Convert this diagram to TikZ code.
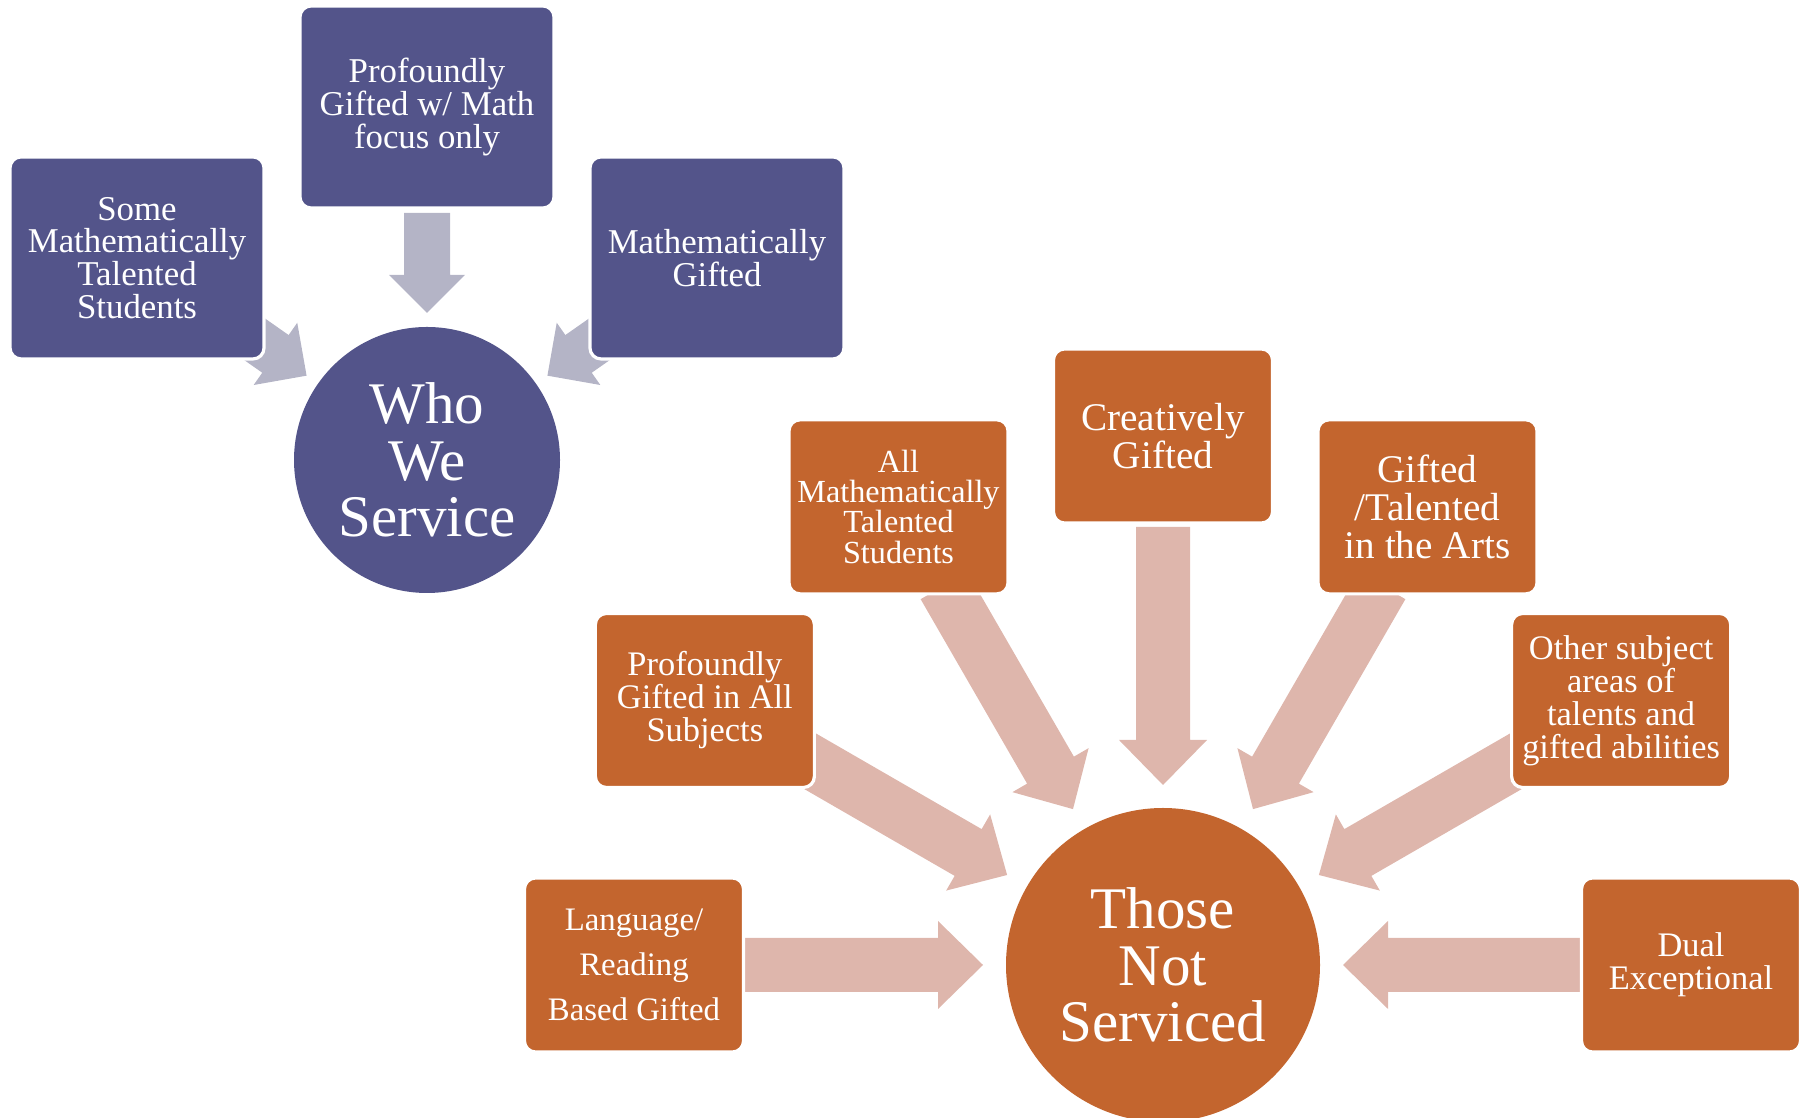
\documentclass[tikz,border=0pt]{standalone}
\usepackage{fontspec}
\setmainfont{Liberation Serif}
\usetikzlibrary{backgrounds,calc}
\definecolor{purpbox}{RGB}{83,84,138}
\definecolor{purparrow}{RGB}{180,180,198}
\definecolor{orabox}{RGB}{195,101,46}
\definecolor{orarrow}{RGB}{222,182,172}
\newcommand\radarrowP[2]{%
  \begin{scope}[shift={(#1)}, rotate=#2]
    \fill[purparrow] (147,0) -- (185,38) -- (185,23) -- (247,23) -- (247,-23) -- (185,-23) -- (185,-38) -- cycle;
  \end{scope}}
\newcommand\radarrowO[2]{%
  \begin{scope}[shift={(#1)}, rotate=#2]
    \fill[orarrow] (180,0) -- (225,44) -- (225,27) -- (438,27) -- (438,-27) -- (225,-27) -- (225,-44) -- cycle;
  \end{scope}}
\begin{document}
\begin{tikzpicture}[x=0.5pt,y=0.5pt,
  pbox/.style={rectangle, rounded corners=5.5pt, fill=purpbox, draw=white, line width=1.6pt,
    minimum width=127pt, minimum height=101pt, text=white, align=center, inner sep=0pt,
    font={\fontsize{17.4}{16.35}\selectfont}},
  obox/.style={rectangle, rounded corners=5.5pt, fill=orabox, draw=white, line width=1.6pt,
    minimum width=109.5pt, minimum height=87pt, text=white, align=center, inner sep=0pt,
    font={\fontsize{17.2}{16.5}\selectfont}},
  pcirc/.style={circle, fill=purpbox, minimum size=133pt, inner sep=0pt, text=white, align=center,
    font={\fontsize{29.5}{28.3}\selectfont}},
  ocirc/.style={circle, fill=orabox, minimum size=157pt, inner sep=0pt, text=white, align=center,
    font={\fontsize{29.5}{28.3}\selectfont}}]
\useasboundingbox (0,0) rectangle (1799,1118);
% Who We Service
\node[pcirc] (C1) at (427,658) {Who\\We\\Service};
\node[pbox] (B1) at ($(427,657)+(145:354)$) {Some\\Mathematically\\Talented\\Students};
\node[pbox] (B2) at ($(427,657)+(90:354)$) {Profoundly\\Gifted w/ Math\\focus only};
\node[pbox] (B3) at ($(427,657)+(35:354)$) {Mathematically\\Gifted};
% Those Not Serviced
\node[ocirc] (C2) at (1163,153) {Those\\Not\\Serviced};
\node[obox] (O1) at ($(1163,153)+(120:529)$) [font={\fontsize{16.1}{15.1}\selectfont}] {All\\Mathematically\\Talented\\Students};
\node[obox] (O2) at ($(1163,153)+(90:529)$) [font={\fontsize{19.6}{18.9}\selectfont}] {Creatively\\Gifted};
\node[obox] (O3) at ($(1163,153)+(60:529)$) [font={\fontsize{19.6}{18.9}\selectfont}] {Gifted\\/Talented\\in the Arts};
\node[obox] (O4) at ($(1163,153)+(150:529)$) {Profoundly\\Gifted in All\\Subjects};
\node[obox] (O5) at ($(1163,153)+(30:529)$) {Other subject\\areas of\\talents and\\gifted abilities};
\node[obox] (O6) at ($(1163,153)+(180:529)$) [font={\fontsize{16.4}{22.6}\selectfont}] {Language/\\Reading\\Based Gifted};
\node[obox] (O7) at ($(1163,153)+(0:528)$) {Dual\\Exceptional};
\begin{scope}[on background layer]
  \radarrowP{C1.center}{145}
  \radarrowP{C1.center}{90}
  \radarrowP{C1.center}{35}
  \radarrowO{C2.center}{0}
  \radarrowO{C2.center}{30}
  \radarrowO{C2.center}{60}
  \radarrowO{C2.center}{90}
  \radarrowO{C2.center}{120}
  \radarrowO{C2.center}{150}
  \radarrowO{C2.center}{180}
\end{scope}
\end{tikzpicture}
\end{document}
